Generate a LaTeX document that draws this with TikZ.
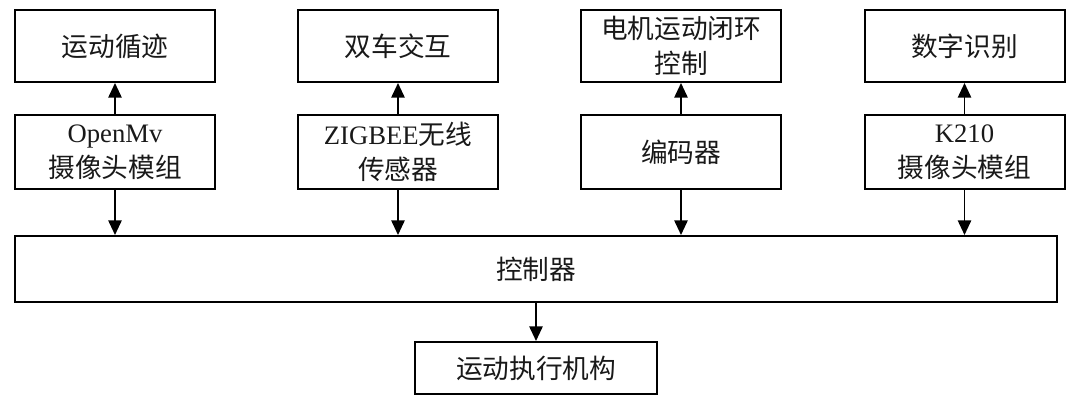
\documentclass[tikz,border=0pt]{standalone}
\usepackage{fontspec}
\setmainfont{Liberation Serif}
\newfontfamily\cjk{Noto Sans CJK SC}
\usetikzlibrary{arrows.meta}
\begin{document}
\begin{tikzpicture}[x=0.75pt,y=-0.75pt,
  box/.style={draw=black,line width=1.5pt,inner sep=0pt,align=center,
    font=\fontsize{20pt}{26pt}\selectfont\cjk,text=black!90},
  topbox/.style={box,minimum width=150pt,minimum height=54pt},
  midbox/.style={box,minimum width=150pt,minimum height=55.5pt},
  arr/.style={line width=1.3pt,-{Triangle[width=10pt,length=11pt]}}]
\useasboundingbox (0,0) rectangle (1080,404);
\node[topbox] (t1) at (115,46) {运动循迹};
\node[topbox] (t2) at (398,46) {双车交互};
\node[topbox] (t3) at (681,46) {电机运动闭环\\控制};
\node[topbox] (t4) at (964.5,46) {数字识别};
\node[midbox] (m1) at (115,152) {\rmfamily OpenMv\\摄像头模组};
\node[midbox] (m2) at (398,152) {{\rmfamily ZIGBEE}无线\\传感器};
\node[midbox] (m3) at (681,152) {编码器};
\node[midbox] (m4) at (964.5,152) {{\rmfamily K210}\\摄像头模组};
\node[box,minimum width=781.5pt,minimum height=49.5pt] (ctrl) at (536,269) {控制器};
\node[box,minimum width=181.5pt,minimum height=39pt] (act) at (536,368) {运动执行机构};
\foreach \i in {1,2,3,4}{
  \draw[arr] (m\i.north) -- (t\i.south);
  \draw[arr] (m\i.south) -- (m\i.south |- ctrl.north);
}
\draw[arr] (ctrl.south) -- (act.north);
\end{tikzpicture}
\end{document}
